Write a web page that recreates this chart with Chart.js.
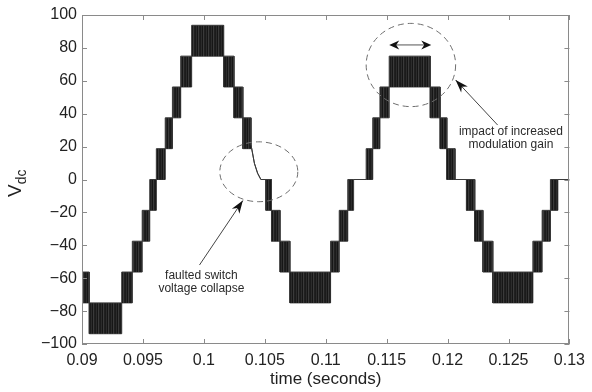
<!DOCTYPE html>
<html>
<head>
<meta charset="utf-8">
<script src="https://cdn.jsdelivr.net/npm/chart.js@4"></script>
<style>
html,body{margin:0;padding:0;background:#fff;}
#wrap{width:592px;height:392px;}
</style>
</head>
<body>
<div id="wrap"><canvas id="c" width="592" height="392"></canvas></div>
<script>
// ---- data ----
// PWM blocks of the multilevel output: start time, end time, lower level, upper level
const blockStart = [0.0900,0.0906,0.09326,0.09413,0.09494,0.09556,0.0961,0.09683,0.09742,0.0981,0.0990,0.10162,0.10247,0.1032,
  0.10468,0.10509,0.10555,0.10625,0.10706,0.1104,0.11111,0.11181,0.11229,0.11332,0.11386,0.11445,0.11521,0.11858,0.11939,0.11994,
  0.12061,0.12155,0.12223,0.1229,0.12371,0.127,0.12776,0.12844,0.12905];
const blockEnd = [0.0906,0.09326,0.09413,0.09494,0.09556,0.0961,0.09683,0.09742,0.0981,0.0990,0.10162,0.10247,0.1032,0.10387,
  0.10509,0.10555,0.10625,0.10706,0.1104,0.11111,0.11181,0.11229,0.11332,0.11386,0.11445,0.11521,0.11858,0.11939,0.11994,0.12061,
  0.12155,0.12223,0.1229,0.12371,0.127,0.12776,0.12844,0.12905,0.1300];
const blockLow = [-75,-93.75,-75,-56.25,-37.5,-18.75,0,18.75,37.5,56.25,75,56.25,37.5,18.75,
  0,-18.75,-37.5,-56.25,-75,-56.25,-37.5,-18.75,0,0,18.75,37.5,56.25,37.5,18.75,0,
  0,-18.75,-37.5,-56.25,-75,-56.25,-37.5,-18.75,0];
const blockHigh = [-56.25,-75,-56.25,-37.5,-18.75,0,18.75,37.5,56.25,75,93.75,75,56.25,37.5,
  0,0,-18.75,-37.5,-56.25,-37.5,-18.75,0,0,18.75,37.5,56.25,75,56.25,37.5,18.75,
  0,0,-18.75,-37.5,-56.25,-37.5,-18.75,0,0];
// faulted switch: voltage collapse trace
const faultTime = [0.10387,0.10415,0.10441];
const faultValue = [21,9.8,3.8];
// axis ticks
const xTicks = [0.09,0.095,0.1,0.105,0.11,0.115,0.12,0.125,0.13];
const yTicks = [-100,-80,-60,-40,-20,0,20,40,60,80,100];
const xTitle = 'time (seconds)';
const annFault = ['faulted switch','voltage collapse'];
const annGain = ['impact of increased','modulation gain'];

// ---- build envelope series ----
let pts = [];
for (let i = 0; i < blockStart.length; i++) {
  pts.push({x: blockStart[i], hi: blockHigh[i], lo: blockLow[i]});
  pts.push({x: blockEnd[i], hi: blockHigh[i], lo: blockLow[i]});
}
for (let i = 0; i < faultTime.length; i++) pts.push({x: faultTime[i], hi: faultValue[i], lo: faultValue[i]});
pts.sort((a,b) => a.x - b.x);
const upper = pts.map(p => ({x: p.x, y: p.hi}));
const lower = pts.map(p => ({x: p.x, y: p.lo}));

const FONT = "'Liberation Sans', Arial, Helvetica, sans-serif";
const fmtNum = v => String(Number(v.toFixed(4))).replace('-', '\u2212');

// switching texture: thin vertical stripes
function stripePattern() {
  const c = document.createElement('canvas');
  c.width = 5; c.height = 1;
  const g = c.getContext('2d');
  const cols = ['#1b1b1b', '#2c2c2c', '#161616', '#3a3a3a', '#202020'];
  cols.forEach((col, i) => { g.fillStyle = col; g.fillRect(i, 0, 1, 1); });
  return g.createPattern(c, 'repeat');
}
const blockFill = stripePattern();

function arrowHead(ctx, x1, y1, x2, y2, len, half) {
  const a = Math.atan2(y2 - y1, x2 - x1);
  ctx.save();
  ctx.translate(x2, y2);
  ctx.rotate(a);
  ctx.beginPath();
  ctx.moveTo(0, 0);
  ctx.lineTo(-len, -half);
  ctx.lineTo(-len * 0.7, 0);
  ctx.lineTo(-len, half);
  ctx.closePath();
  ctx.fillStyle = '#111';
  ctx.fill();
  ctx.restore();
}

const decor = {
  id: 'decor',
  afterDraw(chart) {
    const ctx = chart.ctx, a = chart.chartArea;
    const X = chart.scales.x, Y = chart.scales.y;
    ctx.save();
    // frame
    ctx.strokeStyle = '#8a8a8a';
    ctx.lineWidth = 1;
    ctx.strokeRect(Math.round(a.left) + 0.5, Math.round(a.top) + 0.5, Math.round(a.right - a.left) - 1, Math.round(a.bottom - a.top) - 1);
    // inward ticks on all four sides
    ctx.beginPath();
    const tl = 5;
    xTicks.forEach(v => {
      const px = Math.round(X.getPixelForValue(v)) + 0.5;
      ctx.moveTo(px, a.bottom); ctx.lineTo(px, a.bottom - tl);
      ctx.moveTo(px, a.top); ctx.lineTo(px, a.top + tl);
    });
    yTicks.forEach(v => {
      const py = Math.round(Y.getPixelForValue(v)) + 0.5;
      ctx.moveTo(a.left, py); ctx.lineTo(a.left + tl, py);
      ctx.moveTo(a.right, py); ctx.lineTo(a.right - tl, py);
    });
    ctx.stroke();

    // dashed ellipses
    ctx.strokeStyle = '#6e6e6e';
    ctx.setLineDash([6, 4]);
    const ell = (t, v, rt, rv) => {
      const cx = X.getPixelForValue(t), cy = Y.getPixelForValue(v);
      const rx = Math.abs(X.getPixelForValue(t + rt) - cx), ry = Math.abs(Y.getPixelForValue(v + rv) - cy);
      ctx.beginPath(); ctx.ellipse(cx, cy, rx, ry, 0, 0, Math.PI * 2); ctx.stroke();
    };
    ell(0.10451, 4.7, 0.0032, 18.2);
    ell(0.11699, 69.6, 0.00367, 25.3);
    ctx.setLineDash([]);

    // arrows
    const line = (t1, v1, t2, v2, head) => {
      const x1 = X.getPixelForValue(t1), y1 = Y.getPixelForValue(v1);
      const x2 = X.getPixelForValue(t2), y2 = Y.getPixelForValue(v2);
      ctx.strokeStyle = '#444'; ctx.lineWidth = 1;
      ctx.beginPath(); ctx.moveTo(x1, y1); ctx.lineTo(x2, y2); ctx.stroke();
      if (head) arrowHead(ctx, x1, y1, x2, y2, 13, 4.5);
    };
    line(0.09964, -52, 0.10320, -12.8, true);
    line(0.12411, 33.1, 0.12066, 60.5, true);
    // double arrow
    {
      const x1 = X.getPixelForValue(0.11521), x2 = X.getPixelForValue(0.11866), y = Y.getPixelForValue(81.8);
      ctx.strokeStyle = '#555';
      ctx.beginPath(); ctx.moveTo(x1 + 6, y); ctx.lineTo(x2 - 6, y); ctx.stroke();
      arrowHead(ctx, x2, y, x1, y, 10, 4.5);
      arrowHead(ctx, x1, y, x2, y, 10, 4.5);
    }

    // annotation texts
    ctx.fillStyle = '#2a2a2a';
    ctx.font = '12px ' + FONT;
    ctx.textAlign = 'center';
    ctx.textBaseline = 'alphabetic';
    ctx.fillText(annFault[0], X.getPixelForValue(0.09980), 278.5);
    ctx.fillText(annFault[1], X.getPixelForValue(0.09980), 291.5);
    ctx.fillText(annGain[0], X.getPixelForValue(0.12520), 135);
    ctx.fillText(annGain[1], X.getPixelForValue(0.12520), 148);

    // x axis title
    ctx.fillStyle = '#222';
    ctx.font = '17px ' + FONT;
    ctx.fillText(xTitle, (a.left + a.right) / 2, 384);

    // y axis title V_dc (rotated)
    ctx.save();
    ctx.translate(21, 197);
    ctx.rotate(-Math.PI / 2);
    ctx.textAlign = 'left';
    ctx.font = '19px ' + FONT;
    ctx.fillText('V', 0, 0);
    const w = ctx.measureText('V').width;
    ctx.font = '14px ' + FONT;
    ctx.fillText('dc', w, 5);
    ctx.restore();
    ctx.restore();
  }
};

new Chart(document.getElementById('c'), {
  type: 'line',
  data: {
    datasets: [
      {label: 'upper', data: upper, borderColor: '#3a3a3a', backgroundColor: blockFill, borderWidth: 1, pointRadius: 0, fill: '+1', tension: 0},
      {label: 'lower', data: lower, borderColor: '#3a3a3a', backgroundColor: blockFill, borderWidth: 1, pointRadius: 0, fill: false, tension: 0}
    ]
  },
  options: {
    responsive: false,
    animation: false,
    devicePixelRatio: 1,
    layout: {padding: {left: 0, right: 16, top: 15, bottom: 0}},
    plugins: {legend: {display: false}, tooltip: {enabled: false}, title: {display: false}},
    scales: {
      x: {
        type: 'linear', min: 0.09, max: 0.13,
        afterBuildTicks: s => { s.ticks = xTicks.map(v => ({value: v})); },
        afterFit: s => { s.height = 48; },
        grid: {display: false, drawTicks: false}, border: {display: false},
        ticks: {callback: v => fmtNum(v), autoSkip: false, maxRotation: 0, padding: 7, color: '#222', font: {family: FONT, size: 16}}
      },
      y: {
        type: 'linear', min: -100, max: 100,
        afterBuildTicks: s => { s.ticks = yTicks.map(v => ({value: v})); },
        afterFit: s => { s.width = 82; },
        grid: {display: false, drawTicks: false}, border: {display: false},
        ticks: {callback: v => fmtNum(v), padding: 5, color: '#222', font: {family: FONT, size: 16}}
      }
    }
  },
  plugins: [decor]
});
</script>
</body>
</html>
